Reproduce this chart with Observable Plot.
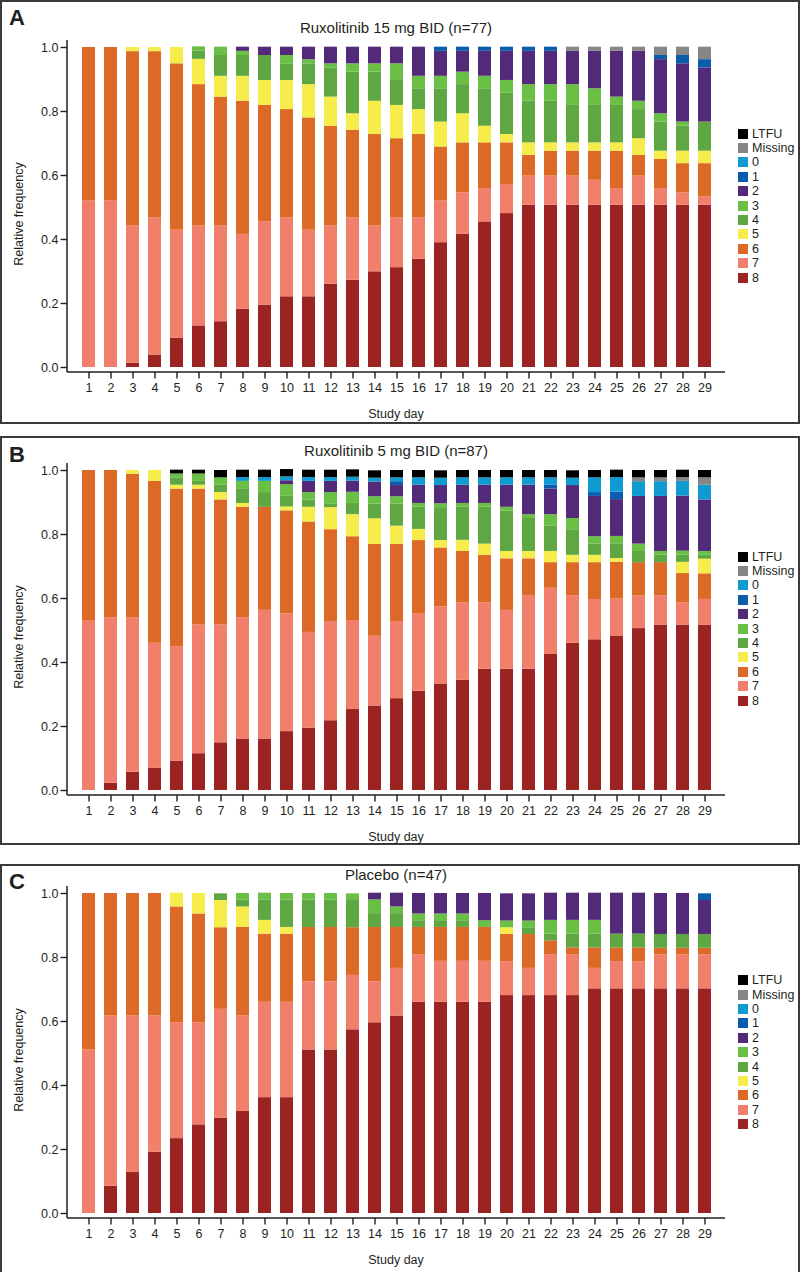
<!DOCTYPE html>
<html>
<head>
<meta charset="utf-8">
<script src="https://cdn.jsdelivr.net/npm/d3@7"></script>
<script src="https://cdn.jsdelivr.net/npm/@observablehq/plot@0.6"></script>
<style>
  body { margin: 0; background: #fff; font-family: "Liberation Sans", Arial, Helvetica, sans-serif; color: #231f20; }
  #root { position: relative; width: 800px; height: 1272px; overflow: hidden; }
  .box { position: absolute; left: 0; width: 796px; border: 2px solid #3a3a3a; }
  .abs { position: absolute; white-space: nowrap; line-height: 1; }
  .letter { font-weight: bold; font-size: 22px; }
  .title { font-size: 15px; transform: translate(-50%, -50%); }
  .xlab { font-size: 12.5px; transform: translate(-50%, -50%); }
  .ylab { font-size: 12.5px; transform: translate(-50%, -50%) rotate(-90deg); }
  .legend { position: absolute; left: 738px; font-size: 12.5px; }
  .legend .row { position: absolute; left: 0; height: 10px; display: flex; align-items: center; }
  .legend .sw { width: 10px; height: 10px; margin-right: 4px; }
  svg { position: absolute; left: 0; overflow: visible; }
</style>
</head>
<body>
<div id="root"></div>
<script>
// ---------- shared ----------
const days = [1,2,3,4,5,6,7,8,9,10,11,12,13,14,15,16,17,18,19,20,21,22,23,24,25,26,27,28,29];
const yTicks = [0, 0.2, 0.4, 0.6, 0.8, 1.0];
const categories = ["8","7","6","5","4","3","2","1","0","Missing","LTFU"]; // bottom -> top
const legendOrder = ["LTFU","Missing","0","1","2","3","4","5","6","7","8"];
const colors = ["#9b2321","#f27f6c","#dc6a26","#f6ec4b","#5ea743","#6abf45","#532a7a","#0b5cad","#0f9ad2","#868686","#000000"];
const panelLetters = ["A","B","C"];
const panelTitles = ["Ruxolitinib 15 mg BID (n=77)","Ruxolitinib 5 mg BID (n=87)","Placebo (n=47)"];
const xLabel = "Study day";
const yLabel = "Relative frequency";

// ---------- Panel A: Ruxolitinib 15 mg BID ----------
const A8 = [0,0,0.013,0.039,0.091,0.13,0.143,0.182,0.195,0.221,0.221,0.26,0.273,0.299,0.312,0.338,0.39,0.416,0.455,0.481,0.507,0.507,0.507,0.507,0.507,0.507,0.507,0.507,0.507];
const A7 = [0.52,0.52,0.429,0.428,0.338,0.312,0.299,0.234,0.26,0.247,0.208,0.182,0.195,0.143,0.156,0.13,0.13,0.13,0.104,0.091,0.091,0.091,0.091,0.078,0.052,0.091,0.052,0.039,0.026];
const A6 = [0.48,0.48,0.545,0.52,0.52,0.442,0.403,0.416,0.364,0.338,0.351,0.312,0.273,0.286,0.247,0.26,0.169,0.156,0.143,0.13,0.065,0.078,0.078,0.091,0.117,0.065,0.091,0.091,0.104];
const A5 = [0,0,0.013,0.013,0.051,0.079,0.065,0.078,0.078,0.091,0.104,0.091,0.052,0.104,0.104,0.078,0.078,0.091,0.052,0.026,0.039,0.026,0.026,0.026,0.026,0.052,0.026,0.039,0.039];
const A4 = [0,0,0,0,0,0.026,0.065,0.065,0.078,0.052,0.065,0.091,0.13,0.091,0.078,0.065,0.104,0.091,0.117,0.13,0.13,0.13,0.117,0.117,0.117,0.091,0.091,0.078,0.091];
const A3 = [0,0,0,0,0,0.013,0.026,0.013,0,0.026,0.013,0.013,0.026,0.026,0.052,0.039,0.039,0.039,0.039,0.039,0.052,0.052,0.065,0.052,0.026,0.026,0.026,0.013,0];
const A2 = [0,0,0,0,0,0,0,0.013,0.026,0.026,0.039,0.052,0.052,0.052,0.052,0.091,0.078,0.065,0.078,0.091,0.104,0.104,0.104,0.117,0.143,0.156,0.169,0.182,0.169];
const A1 = [0,0,0,0,0,0,0,0,0,0,0,0,0,0,0,0,0.013,0.013,0.013,0.013,0.013,0.013,0,0,0,0,0.013,0.026,0.026];
const A0 = [0,0,0,0,0,0,0,0,0,0,0,0,0,0,0,0,0,0,0,0,0,0,0,0,0,0,0,0,0];
const AMissing = [0,0,0,0,0,0,0,0,0,0,0,0,0,0,0,0,0,0,0,0,0,0,0.013,0.013,0.013,0.013,0.026,0.026,0.039];
const ALTFU = [0,0,0,0,0,0,0,0,0,0,0,0,0,0,0,0,0,0,0,0,0,0,0,0,0,0,0,0,0];

// ---------- Panel B: Ruxolitinib 5 mg BID ----------
const B8 = [0,0.023,0.057,0.069,0.092,0.115,0.149,0.161,0.161,0.184,0.195,0.218,0.253,0.264,0.287,0.31,0.333,0.345,0.379,0.379,0.379,0.425,0.46,0.471,0.483,0.506,0.517,0.517,0.517];
const B7 = [0.529,0.517,0.483,0.391,0.356,0.402,0.368,0.379,0.402,0.368,0.299,0.31,0.276,0.218,0.241,0.241,0.241,0.241,0.207,0.184,0.23,0.207,0.149,0.126,0.115,0.103,0.092,0.069,0.08];
const B6 = [0.471,0.46,0.448,0.506,0.494,0.425,0.391,0.345,0.322,0.322,0.345,0.287,0.264,0.287,0.241,0.23,0.184,0.161,0.149,0.161,0.115,0.08,0.103,0.115,0.115,0.103,0.103,0.092,0.08];
const B5 = [0,0,0.012,0.034,0.012,0.012,0.023,0.012,0,0.012,0.046,0.069,0.069,0.08,0.057,0.035,0.023,0.035,0.035,0.023,0.023,0.035,0.023,0.023,0.012,0,0,0.035,0.046];
const B4 = [0,0,0,0,0.023,0.012,0.023,0.046,0.046,0.035,0.023,0.012,0.035,0.046,0.069,0.069,0.103,0.103,0.115,0.126,0.103,0.08,0.08,0.035,0.046,0.035,0.023,0.023,0.012];
const B3 = [0,0,0,0,0.012,0.023,0.023,0.023,0.035,0.035,0.023,0.035,0.035,0.023,0.023,0.012,0.012,0.012,0.012,0.012,0.012,0.035,0.035,0.023,0.023,0.023,0.012,0.012,0.012];
const B2 = [0,0,0,0,0,0,0,0,0,0.012,0.035,0.035,0.035,0.046,0.035,0.057,0.057,0.057,0.057,0.069,0.092,0.08,0.103,0.126,0.115,0.149,0.172,0.172,0.161];
const B1 = [0,0,0,0,0,0,0,0,0,0,0,0,0,0,0.012,0,0,0,0,0,0,0.012,0,0.012,0.023,0,0,0,0];
const B0 = [0,0,0,0,0,0,0,0.012,0.012,0.012,0.012,0.012,0.012,0.012,0.012,0.023,0.023,0.023,0.023,0.023,0.023,0.023,0.023,0.046,0.046,0.046,0.046,0.046,0.046];
const BMissing = [0,0,0,0,0,0,0,0,0,0,0,0,0,0,0,0,0,0,0,0,0,0,0,0,0,0.012,0.012,0.012,0.023];
const BLTFU = [0,0,0,0,0.012,0.012,0.023,0.023,0.023,0.023,0.023,0.023,0.023,0.023,0.023,0.023,0.023,0.023,0.023,0.023,0.023,0.023,0.023,0.023,0.023,0.023,0.023,0.023,0.023];

// ---------- Panel C: Placebo ----------
const C8 = [0,0.085,0.128,0.191,0.234,0.277,0.298,0.319,0.362,0.362,0.511,0.511,0.574,0.596,0.617,0.66,0.66,0.66,0.66,0.681,0.681,0.681,0.681,0.702,0.702,0.702,0.702,0.702,0.702];
const C7 = [0.511,0.532,0.489,0.426,0.362,0.319,0.34,0.298,0.298,0.298,0.213,0.213,0.17,0.128,0.149,0.149,0.128,0.128,0.128,0.106,0.085,0.128,0.128,0.064,0.085,0.085,0.106,0.106,0.106];
const C6 = [0.489,0.383,0.383,0.383,0.362,0.34,0.255,0.277,0.213,0.213,0.17,0.17,0.149,0.17,0.128,0.085,0.106,0.106,0.106,0.085,0.106,0.043,0.021,0.064,0.043,0.043,0.021,0.021,0.021];
const C5 = [0,0,0,0,0.043,0.064,0.085,0.064,0.043,0.021,0,0,0,0,0,0,0,0,0,0.021,0,0,0,0,0,0,0,0,0];
const C4 = [0,0,0,0,0,0,0.021,0.021,0.064,0.085,0.085,0.085,0.085,0.043,0.043,0.021,0.021,0.021,0,0,0.021,0.021,0.043,0.043,0.043,0.043,0.043,0.043,0.043];
const C3 = [0,0,0,0,0,0,0,0.021,0.021,0.021,0.021,0.021,0.021,0.043,0.021,0.021,0.021,0.021,0.021,0.021,0.021,0.043,0.043,0.043,0,0,0,0,0];
const C2 = [0,0,0,0,0,0,0,0,0,0,0,0,0,0.021,0.043,0.064,0.064,0.064,0.085,0.085,0.085,0.085,0.085,0.085,0.128,0.128,0.128,0.128,0.106];
const C1 = [0,0,0,0,0,0,0,0,0,0,0,0,0,0,0,0,0,0,0,0,0,0,0,0,0,0,0,0,0.021];
const C0 = [0,0,0,0,0,0,0,0,0,0,0,0,0,0,0,0,0,0,0,0,0,0,0,0,0,0,0,0,0];
const CMissing = [0,0,0,0,0,0,0,0,0,0,0,0,0,0,0,0,0,0,0,0,0,0,0,0,0,0,0,0,0];
const CLTFU = [0,0,0,0,0,0,0,0,0,0,0,0,0,0,0,0,0,0,0,0,0,0,0,0,0,0,0,0,0];

const panelSeries = [
  {"8":A8,"7":A7,"6":A6,"5":A5,"4":A4,"3":A3,"2":A2,"1":A1,"0":A0,"Missing":AMissing,"LTFU":ALTFU},
  {"8":B8,"7":B7,"6":B6,"5":B5,"4":B4,"3":B3,"2":B2,"1":B1,"0":B0,"Missing":BMissing,"LTFU":BLTFU},
  {"8":C8,"7":C7,"6":C6,"5":C5,"4":C4,"3":C3,"2":C2,"1":C1,"0":C0,"Missing":CMissing,"LTFU":CLTFU}
];

// ---------- layout (page pixels) ----------
const layout = [
  {boxTop: 0,   boxBottom: 424,  y1: 46.5,  letterY: 7},
  {boxTop: 436, boxBottom: 845,  y1: 469.5, letterY: 444},
  {boxTop: 864, boxBottom: 1282, y1: 893.3, letterY: 871}
];
const W = 800, mL = 67, mR = 75, mT = 20, plotH = 320, gap = 5, mB = 50;
const ink = "#231f20";

const root = document.getElementById("root");

function div(cls, text, style) {
  const d = document.createElement("div");
  d.className = cls;
  if (text != null) d.textContent = text;
  Object.assign(d.style, style);
  root.appendChild(d);
  return d;
}

layout.forEach((L, p) => {
  // border box
  div("box", null, {top: L.boxTop + "px", height: (L.boxBottom - L.boxTop - 4) + "px"});
  div("abs letter", panelLetters[p], {left: "9px", top: L.letterY + "px"});
  div("abs title", panelTitles[p], {left: ((mL + W - mR) / 2) + "px", top: (L.y1 - 19.5) + "px"});
  div("abs xlab", xLabel, {left: ((mL + W - mR) / 2) + "px", top: (L.y1 + 367) + "px"});
  div("abs ylab", yLabel, {left: "18.5px", top: (L.y1 + 167) + "px"});

  const series = panelSeries[p];
  const rows = [];
  categories.forEach(c => series[c].forEach((v, i) => rows.push({day: days[i], cat: c, value: v})));

  const svgH = mT + plotH + gap + mB;
  const chart = Plot.plot({
    width: W,
    height: svgH,
    marginLeft: mL, marginRight: mR, marginTop: mT, marginBottom: mB,
    style: {fontFamily: '"Liberation Sans", Arial, Helvetica, sans-serif', fontSize: "12.5px", color: ink, background: "transparent"},
    x: {type: "band", domain: days, paddingInner: 0.41, paddingOuter: 0.28, label: null},
    y: {domain: [0, 1], insetBottom: gap, label: null},
    color: {domain: categories, range: colors},
    marks: [
      Plot.barY(rows, {x: "day", y: "value", fill: "cat", order: categories}),
      Plot.axisY({ticks: yTicks, tickFormat: d3.format(".1f"), tickSize: 6.5, tickPadding: 2.5, label: null, stroke: ink, strokeWidth: 1.4, fill: ink, fontSize: 12.5}),
      Plot.axisX({tickSize: 6.5, tickPadding: 4, label: null, stroke: ink, strokeWidth: 1.4, fill: ink, fontSize: 12.5})
    ]
  });
  chart.style.top = (L.y1 - mT) + "px";
  root.appendChild(chart);

  // axis lines
  const g = d3.select(chart);
  const frameBottom = mT + plotH + gap;
  g.append("line").attr("x1", mL).attr("x2", mL).attr("y1", mT - 7).attr("y2", frameBottom)
    .attr("stroke", ink).attr("stroke-width", 1.5);
  g.append("line").attr("x1", mL).attr("x2", W - mR).attr("y1", frameBottom).attr("y2", frameBottom)
    .attr("stroke", ink).attr("stroke-width", 1.5);

  // legend
  const leg = div("legend", null, {top: (L.y1 + 82) + "px"});
  legendOrder.forEach((c, i) => {
    const r = document.createElement("div");
    r.className = "row";
    r.style.top = (i * 14.4) + "px";
    const sw = document.createElement("div");
    sw.className = "sw";
    sw.style.background = colors[categories.indexOf(c)];
    const t = document.createElement("span");
    t.textContent = c;
    r.appendChild(sw); r.appendChild(t);
    leg.appendChild(r);
  });
});
</script>
</body>
</html>
